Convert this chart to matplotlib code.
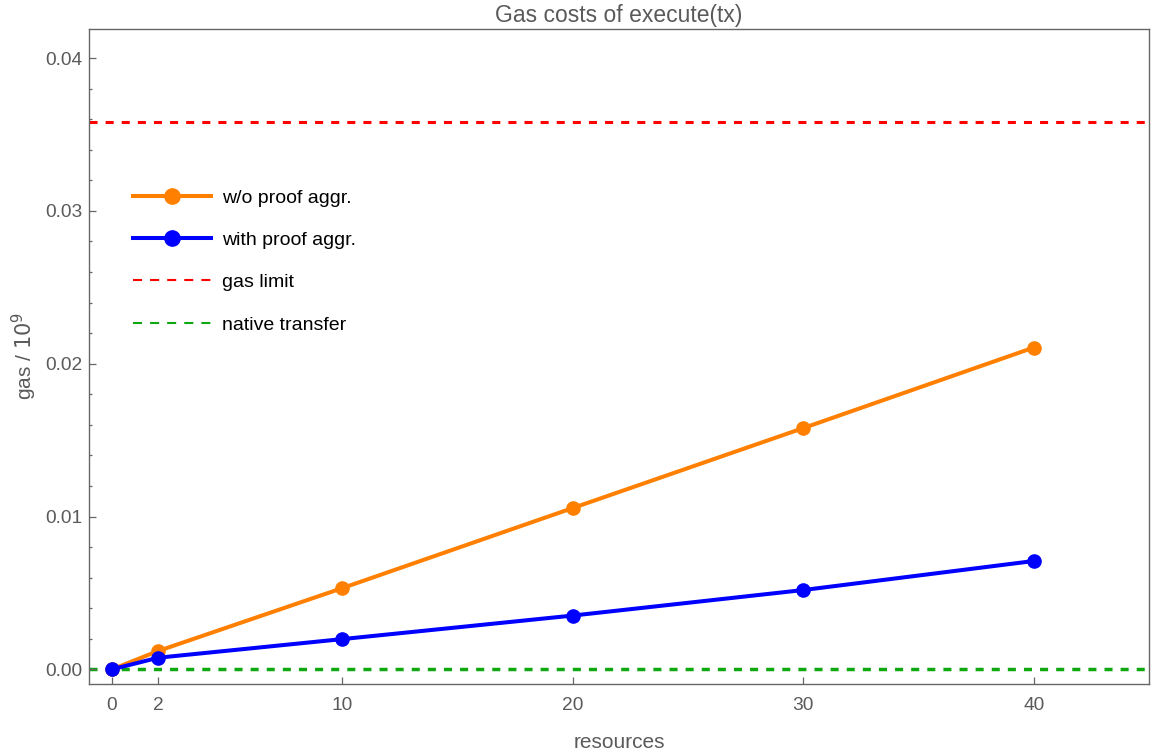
import matplotlib
matplotlib.use("Agg")
import matplotlib.pyplot as plt
from matplotlib.lines import Line2D
from matplotlib.ticker import MultipleLocator

plt.rcParams['font.family'] = ['Liberation Sans', 'DejaVu Sans']
plt.rcParams['lines.scale_dashes'] = False

resources = [0, 2, 10, 20, 30, 40]
without_aggr = [0.0, 0.00120, 0.00532, 0.01056, 0.01579, 0.02106]
with_aggr = [0.0, 0.00076, 0.00198, 0.00352, 0.00519, 0.00709]
gas_limit = 0.0358
native_transfer = 0.000021
x_ticks = [0, 2, 10, 20, 30, 40]
y_ticks = [0.0, 0.01, 0.02, 0.03, 0.04]

ORANGE = '#FF8000'
BLUE = '#0000FF'
RED = '#FF0000'
GREEN = '#10A810'
GREY = '#666666'

fig = plt.figure(figsize=(11.52, 7.56), dpi=100)
ax = fig.add_axes([89/1152, 1-684/756, (1149-89)/1152, (684-28.5)/756])

ax.axhline(gas_limit, color=RED, lw=2.2, linestyle=(0, (5.8, 5.8)), zorder=1)
ax.axhline(native_transfer, color=GREEN, lw=2.5, linestyle=(0, (5.8, 5.8)), zorder=1)
ax.plot(resources, without_aggr, color=ORANGE, lw=2.9, marker='o', ms=9.5, zorder=3)
ax.plot(resources, with_aggr, color=BLUE, lw=2.9, marker='o', ms=9.5, zorder=4)

ax.set_xlim(-1, 45)
ax.set_ylim(-0.00096, 0.04194)
ax.set_xticks(x_ticks)
ax.set_xticklabels([str(v) for v in x_ticks])
ax.set_yticks(y_ticks)
ax.set_yticklabels([f"{v:.2f}" for v in y_ticks])
ax.yaxis.set_minor_locator(MultipleLocator(0.002))

for s in ax.spines.values():
    s.set_color(GREY)
    s.set_linewidth(1.0)
ax.tick_params(axis='both', which='both', direction='in', colors=GREY,
               labelcolor='#5a5a5a', labelsize=13.8, width=0.9)
ax.tick_params(axis='y', which='major', length=5, pad=5)
ax.tick_params(axis='y', which='minor', length=2.5)
ax.tick_params(axis='x', which='major', length=5, pad=9)

ax.set_title("Gas costs of execute(tx)", fontsize=16.5, color='#5a5a5a', pad=5)
ax.set_xlabel("resources", fontsize=15, color='#5a5a5a', labelpad=14)
ax.set_ylabel(r"gas / $10^9$", fontsize=15, color='#5a5a5a', labelpad=4)

handles = [
    Line2D([], [], color=ORANGE, lw=2.9, marker='o', ms=11),
    Line2D([], [], color=BLUE, lw=2.9, marker='o', ms=11),
    Line2D([], [], color=RED, lw=1.5, linestyle=(0, (6.5, 5.8))),
    Line2D([], [], color=GREEN, lw=1.5, linestyle=(0, (6.5, 5.8))),
]
labels = ["w/o proof aggr.", "with proof aggr.", "gas limit", "native transfer"]
leg = ax.legend(handles, labels, loc='upper left', frameon=False, fontsize=14,
                bbox_to_anchor=(133/1152, 1-(196-7)/756), bbox_transform=fig.transFigure,
                borderpad=0, borderaxespad=0, handlelength=4.0, handletextpad=0.6,
                labelspacing=1.27)

fig.savefig("out.png", dpi=100)
